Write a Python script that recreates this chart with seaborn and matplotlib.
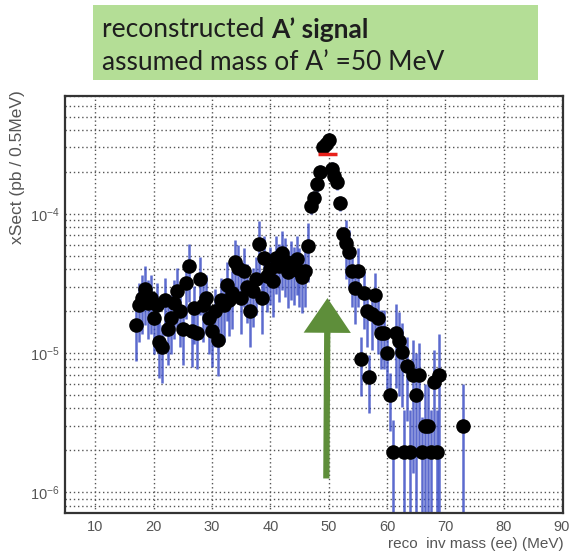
import numpy as np
import pandas as pd
import matplotlib
matplotlib.use('Agg')
import matplotlib.pyplot as plt
import matplotlib.ticker as mticker
import seaborn as sns

# reco invariant mass (MeV) and cross section per bin (pb / 0.5 MeV)
mass = [17.0, 17.5, 18.0, 18.5, 19.0, 19.5, 20.0, 20.5, 21.0, 21.5,
        22.0, 22.5, 23.0, 23.5, 24.0, 24.5, 25.0, 25.5, 26.0, 26.5,
        27.0, 27.5, 28.0, 28.5, 29.0, 29.5, 30.0, 30.5, 31.0, 31.5,
        32.0, 32.5, 33.0, 33.5, 34.0, 34.5, 35.0, 35.5, 36.0, 36.5,
        37.0, 37.5, 38.0, 38.5, 39.0, 39.5, 40.0, 40.5, 41.0, 41.5,
        42.0, 42.5, 43.0, 43.5, 44.0, 44.5, 45.0, 45.5, 46.0, 46.5,
        47.0, 47.5, 48.0, 48.5, 49.0, 49.5, 50.0, 50.5, 51.0, 51.5,
        52.0, 52.5, 53.0, 53.5, 54.0, 54.5, 55.0, 55.5, 56.0, 56.5,
        57.0, 57.5, 58.0, 58.5, 59.0, 59.5, 60.0, 60.5, 61.0, 61.5,
        62.0, 62.5, 63.0, 63.5, 64.0, 64.5, 65.0, 65.5, 66.0, 66.5,
        67.0, 67.5, 68.0, 68.5, 69.0, 73.0]
xsec = [1.6e-5, 2.2e-5, 2.5e-5, 2.9e-5, 2.3e-5, 2.5e-5, 1.8e-5, 2.2e-5, 1.2e-5, 1.1e-5,
        2.4e-5, 1.5e-5, 1.8e-5, 2.3e-5, 2.8e-5, 2.0e-5, 1.5e-5, 3.2e-5, 4.2e-5, 1.45e-5,
        2.1e-5, 1.4e-5, 3.4e-5, 2.2e-5, 2.5e-5, 1.8e-5, 1.45e-5, 2.0e-5, 1.25e-5, 2.4e-5,
        2.2e-5, 3.1e-5, 2.4e-5, 2.7e-5, 4.5e-5, 4.1e-5, 2.5e-5, 3.9e-5, 3.0e-5, 2.0e-5,
        2.8e-5, 3.4e-5, 6.1e-5, 2.5e-5, 4.8e-5, 3.6e-5, 4.0e-5, 3.3e-5, 4.8e-5, 4.2e-5,
        5.2e-5, 4.6e-5, 3.8e-5, 4.4e-5, 4.0e-5, 4.75e-5, 3.9e-5, 3.5e-5, 3.9e-5, 5.9e-5,
        1.14e-4, 1.3e-4, 1.64e-4, 2.0e-4, 3.0e-4, 3.2e-4, 3.4e-4, 2.1e-4, 1.87e-4, 1.7e-4,
        1.2e-4, 7.2e-5, 6.2e-5, 5.3e-5, 3.9e-5, 2.95e-5, 3.9e-5, 9.0e-6, 2.7e-5, 2.0e-5,
        6.7e-6, 1.9e-5, 2.6e-5, 1.8e-5, 1.4e-5, 1.4e-5, 1.0e-5, 5.0e-6, 1.94e-6, 1.4e-5,
        1.23e-5, 1.02e-5, 1.94e-6, 8.1e-6, 1.94e-6, 6.9e-6, 5.0e-6, 6.9e-6, 1.94e-6, 3.0e-6,
        3.0e-6, 1.94e-6, 6.15e-6, 1.94e-6, 6.9e-6, 3.0e-6]
# relative statistical error per bin
rel_err = [0.45] * 60 + [0.12] * 12 + [0.45] * 16 + [0.7, 0.6, 0.6, 0.6, 0.999, 0.6,
           0.999, 0.8, 0.999, 0.7, 0.8, 0.999, 0.999, 0.999, 0.7, 0.999, 0.999, 0.999]

# expected peak height (red marker) and arrow pointing at the assumed A' mass
peak_lo, peak_hi, peak_val = 48.1, 51.4, 2.7e-4
arrow_x, arrow_top, arrow_bottom = 49.8, 2.6e-5, 1.2e-6

df = pd.DataFrame({'mass': mass, 'xsec': xsec})
df['err'] = df['xsec'] * np.array(rel_err)

sns.set_style('white')
plt.rcParams['font.family'] = ['Liberation Sans', 'DejaVu Sans']

fig = plt.figure(figsize=(5.7, 5.52), dpi=100)
ax = fig.add_axes([0.114, 0.0707, 0.874, 0.755])

ax.errorbar(df['mass'], df['xsec'], yerr=df['err'], fmt='none',
            ecolor='#3346c2', elinewidth=1.8, alpha=0.8, zorder=2)
sns.scatterplot(data=df, x='mass', y='xsec', color='black', s=110,
                edgecolor='black', linewidth=0, ax=ax, zorder=3)
ax.hlines(peak_val, peak_lo, peak_hi, color='#e8201a', linewidth=2.5, zorder=4)
ax.annotate('', xy=(arrow_x, arrow_top), xytext=(arrow_x - 0.2, arrow_bottom),
            arrowprops=dict(arrowstyle='simple,head_length=2.5,head_width=3.4,tail_width=0.45',
                            mutation_scale=10, color='#5e8e3a', lw=0), zorder=1)

ax.set_yscale('log')
ax.set_xlim(4.8, 90.2)
ax.set_ylim(7.1e-7, 7e-4)

ax.xaxis.set_major_locator(mticker.MultipleLocator(10))
ax.xaxis.set_minor_locator(mticker.MultipleLocator(2))
ax.yaxis.set_major_locator(mticker.LogLocator(base=10))
ax.yaxis.set_minor_locator(mticker.LogLocator(base=10, subs=np.arange(2, 10)))
ax.yaxis.set_minor_formatter(mticker.NullFormatter())

ax.grid(True, which='major', axis='x', linestyle=(0, (1, 2)), color='#555', linewidth=1)
ax.grid(True, which='both', axis='y', linestyle=(0, (1, 2)), color='#555', linewidth=1)
ax.set_axisbelow(True)

ax.tick_params(axis='both', which='both', direction='in', colors='#222',
               labelcolor='#555', labelsize=10.5, width=1.3)
ax.tick_params(axis='y', which='major', length=12)
ax.tick_params(axis='y', which='minor', length=6)
ax.tick_params(axis='x', which='major', length=8, pad=5)
ax.tick_params(axis='x', which='minor', length=4)
for s in ax.spines.values():
    s.set_color('#333')
    s.set_linewidth(1.6)

ax.set_xlabel('reco  inv mass (ee) (MeV)', loc='right', color='#555', fontsize=11, labelpad=2)
ax.set_ylabel('xSect (pb / 0.5MeV)', loc='top', color='#555', fontsize=12.5)
ax.yaxis.set_label_coords(-0.08, 1.015)

# green caption box
fig.patches.append(plt.Rectangle((0.163, 0.855), 0.781, 0.136, transform=fig.transFigure,
                                 facecolor='#b4de96', edgecolor='none'))
cap = dict(fontsize=19, color='#1e1e1e', family=['Lato', 'DejaVu Sans'])
t1 = fig.text(0.179, 0.946, 'reconstructed ', va='center', **cap)
t2 = fig.text(0, 0, 'A\u2019 signal', fontweight='bold', va='center', **cap)
fig.canvas.draw()
bb = t1.get_window_extent().transformed(fig.transFigure.inverted())
t2.set_position((bb.x1, 0.946))
fig.text(0.179, 0.886, 'assumed mass of A\u2019 =50 MeV', va='center', **cap)

fig.savefig('out.png', dpi=100)
